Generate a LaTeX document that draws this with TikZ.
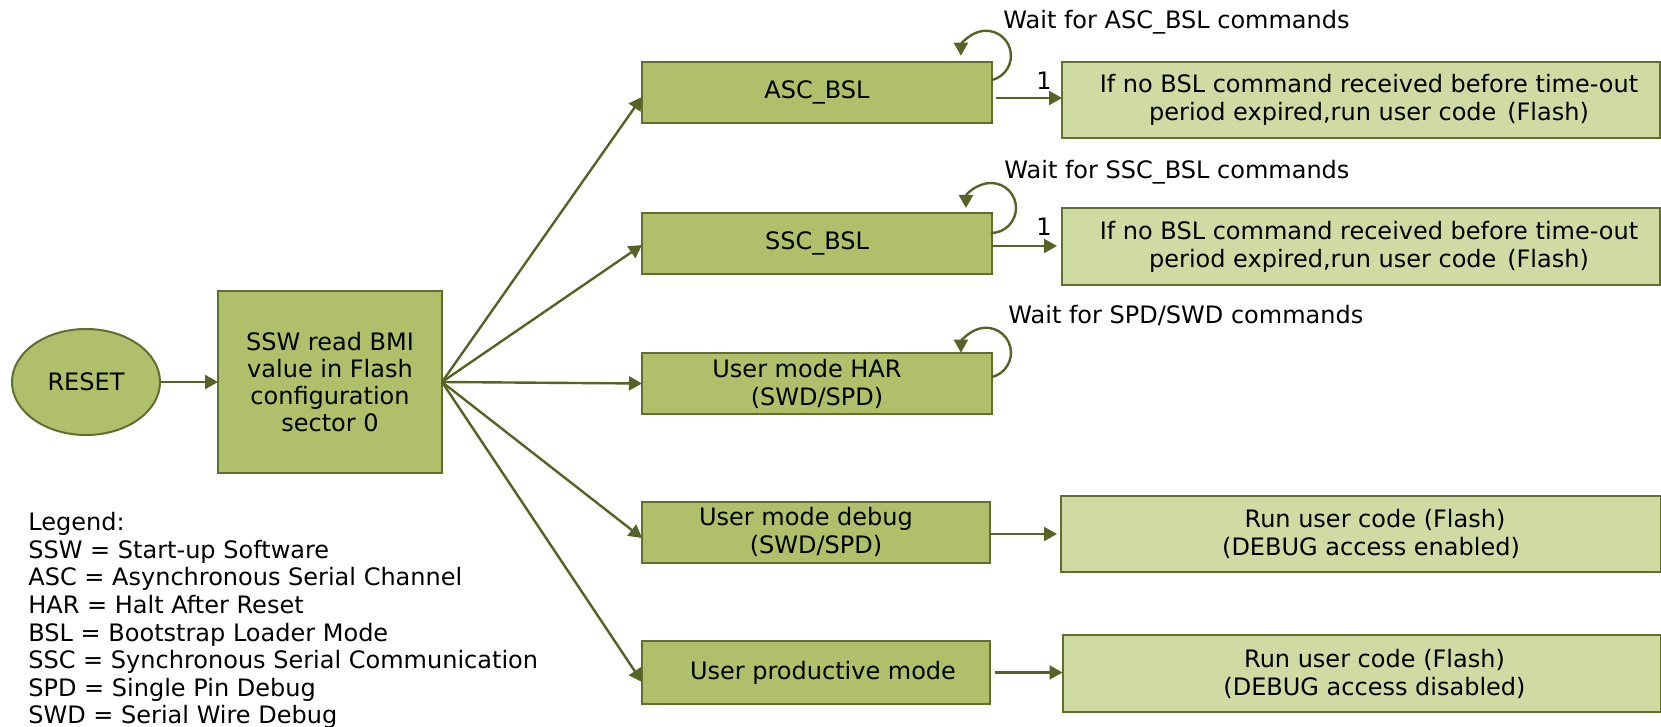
\documentclass[tikz,border=0pt]{standalone}
\usepackage{fontspec}
\setmainfont{DejaVu Sans}
\usetikzlibrary{arrows.meta,shapes.geometric,calc}
\definecolor{boxfill}{RGB}{175,191,106}
\definecolor{lightfill}{RGB}{208,219,164}
\definecolor{edgecol}{RGB}{96,110,48}
\definecolor{arrcol}{RGB}{86,99,38}
\newcommand{\pad}[1]{\rule{#1}{0pt}}
\begin{document}
\begin{tikzpicture}[x=0.5pt,y=-0.5pt,
  font=\fontsize{12pt}{14pt}\selectfont,
  darkbox/.style={draw=edgecol,fill=boxfill,line width=1pt,inner sep=0pt,outer sep=0pt,align=center},
  lightbox/.style={draw=edgecol,fill=lightfill,line width=1pt,inner sep=0pt,outer sep=0pt,align=center},
  modebox/.style={darkbox,minimum width=175pt,minimum height=30.5pt},
  resbox/.style={lightbox,minimum width=299pt,minimum height=38pt},
  arr/.style={draw=arrcol,line width=1.2pt,-{Triangle[length=6.5pt,width=7pt]}},
  lbl/.style={inner sep=0pt,anchor=base west}]
\useasboundingbox (0,0) rectangle (1661,727);

% nodes
\node[ellipse,draw=edgecol,fill=boxfill,line width=1pt,inner sep=0pt,outer sep=0pt,
      minimum width=74pt,minimum height=53pt] (reset) at (86,382) {RESET};
\node[darkbox,minimum width=112pt,minimum height=91pt,
      font=\fontsize{12pt}{13.6pt}\selectfont] (ssw) at (330,382)
      {SSW read BMI\\value in Flash\\configuration\\sector 0};

\node[modebox] (asc) at (817,92.5) {ASC\_BSL};
\node[modebox] (ssc) at (817,243.5) {SSC\_BSL};
\node[modebox] (har) at (817,383.5) {User mode HAR\pad{10pt}\\(SWD/SPD)};
\node[modebox,minimum width=174pt] (dbg) at (816,532) {User mode debug\pad{10pt}\\(SWD/SPD)};
\node[modebox,minimum width=174pt,minimum height=31.5pt] (prod) at (816,672.5) {\pad{7pt}User productive mode};

\node[resbox] (r1) at (1361,100)
  {\pad{8pt}If no BSL command received before time-out\\\pad{8pt}period expired,run user code\hspace{0.45em}(Flash)};
\node[resbox,minimum height=38.5pt] (r2) at (1361,246.5)
  {\pad{8pt}If no BSL command received before time-out\\\pad{8pt}period expired,run user code\hspace{0.45em}(Flash)};
\node[resbox,minimum width=300pt] (r3) at (1361,534)
  {\pad{14pt}Run user code (Flash)\\\pad{10pt}(DEBUG access enabled)};
\node[resbox,minimum height=38.5pt] (r4) at (1361.5,673.5)
  {\pad{13pt}Run user code (Flash)\\\pad{13pt}(DEBUG access disabled)};

% labels
\node[lbl] (w1) at (1003,29) {Wait for ASC\_BSL commands};
\node[lbl] (w2) at (1004,179) {Wait for SSC\_BSL commands};
\node[lbl] (w3) at (1008,324) {Wait for SPD/SWD commands};
\node[inner sep=0pt] (one1) at (1044,81) {1};
\node[inner sep=0pt] (one2) at (1044,227) {1};

\node[inner sep=0pt,anchor=north west,align=left,font=\fontsize{12pt}{13.8pt}\selectfont] (legend) at (28,512)
  {Legend:\\SSW = Start-up Software\\ASC = Asynchronous Serial Channel\\HAR = Halt After Reset\\BSL = Bootstrap Loader Mode\\SSC = Synchronous Serial Communication\\SPD = Single Pin Debug\\SWD = Serial Wire Debug};

% connectors
\draw[arr] (reset.east) -- (ssw.west);
\draw[arr] (ssw.east) -- ([yshift=-2.25pt]asc.west);
\draw[arr] (ssw.east) -- ([yshift=-0.75pt]ssc.west);
\draw[arr] (ssw.east) -- (har.west);
\draw[arr] (ssw.east) -- ([yshift=-3pt]dbg.west);
\draw[arr] (ssw.east) -- ([yshift=-4.75pt]prod.west);

\coordinate (a1) at ([xshift=2pt,yshift=-2.75pt]asc.east);
\coordinate (a2) at ([yshift=-1.25pt]ssc.east);
\coordinate (a3) at ([yshift=-1pt]dbg.east);
\coordinate (a4) at ([xshift=2.5pt]prod.east);
\draw[arr] (a1) -- (a1 -| r1.west);
\draw[arr,shorten >=2.5pt] (a2) -- (a2 -| r2.west);
\draw[arr,shorten >=2pt] (a3) -- (a3 -| r3.west);
\draw[arr] (a4) -- (a4 -| r4.west);

% self loops
\draw[arr] ([yshift=-9pt]asc.north east) arc[start angle=-76,end angle=180,radius=12.5pt];
\draw[arr] ([xshift=-0.5pt,yshift=-10pt]ssc.north east) arc[start angle=-90,end angle=180,radius=12.5pt];
\draw[arr] ([yshift=-12pt]har.north east) arc[start angle=-76,end angle=180,radius=12.5pt];
\end{tikzpicture}
\end{document}
